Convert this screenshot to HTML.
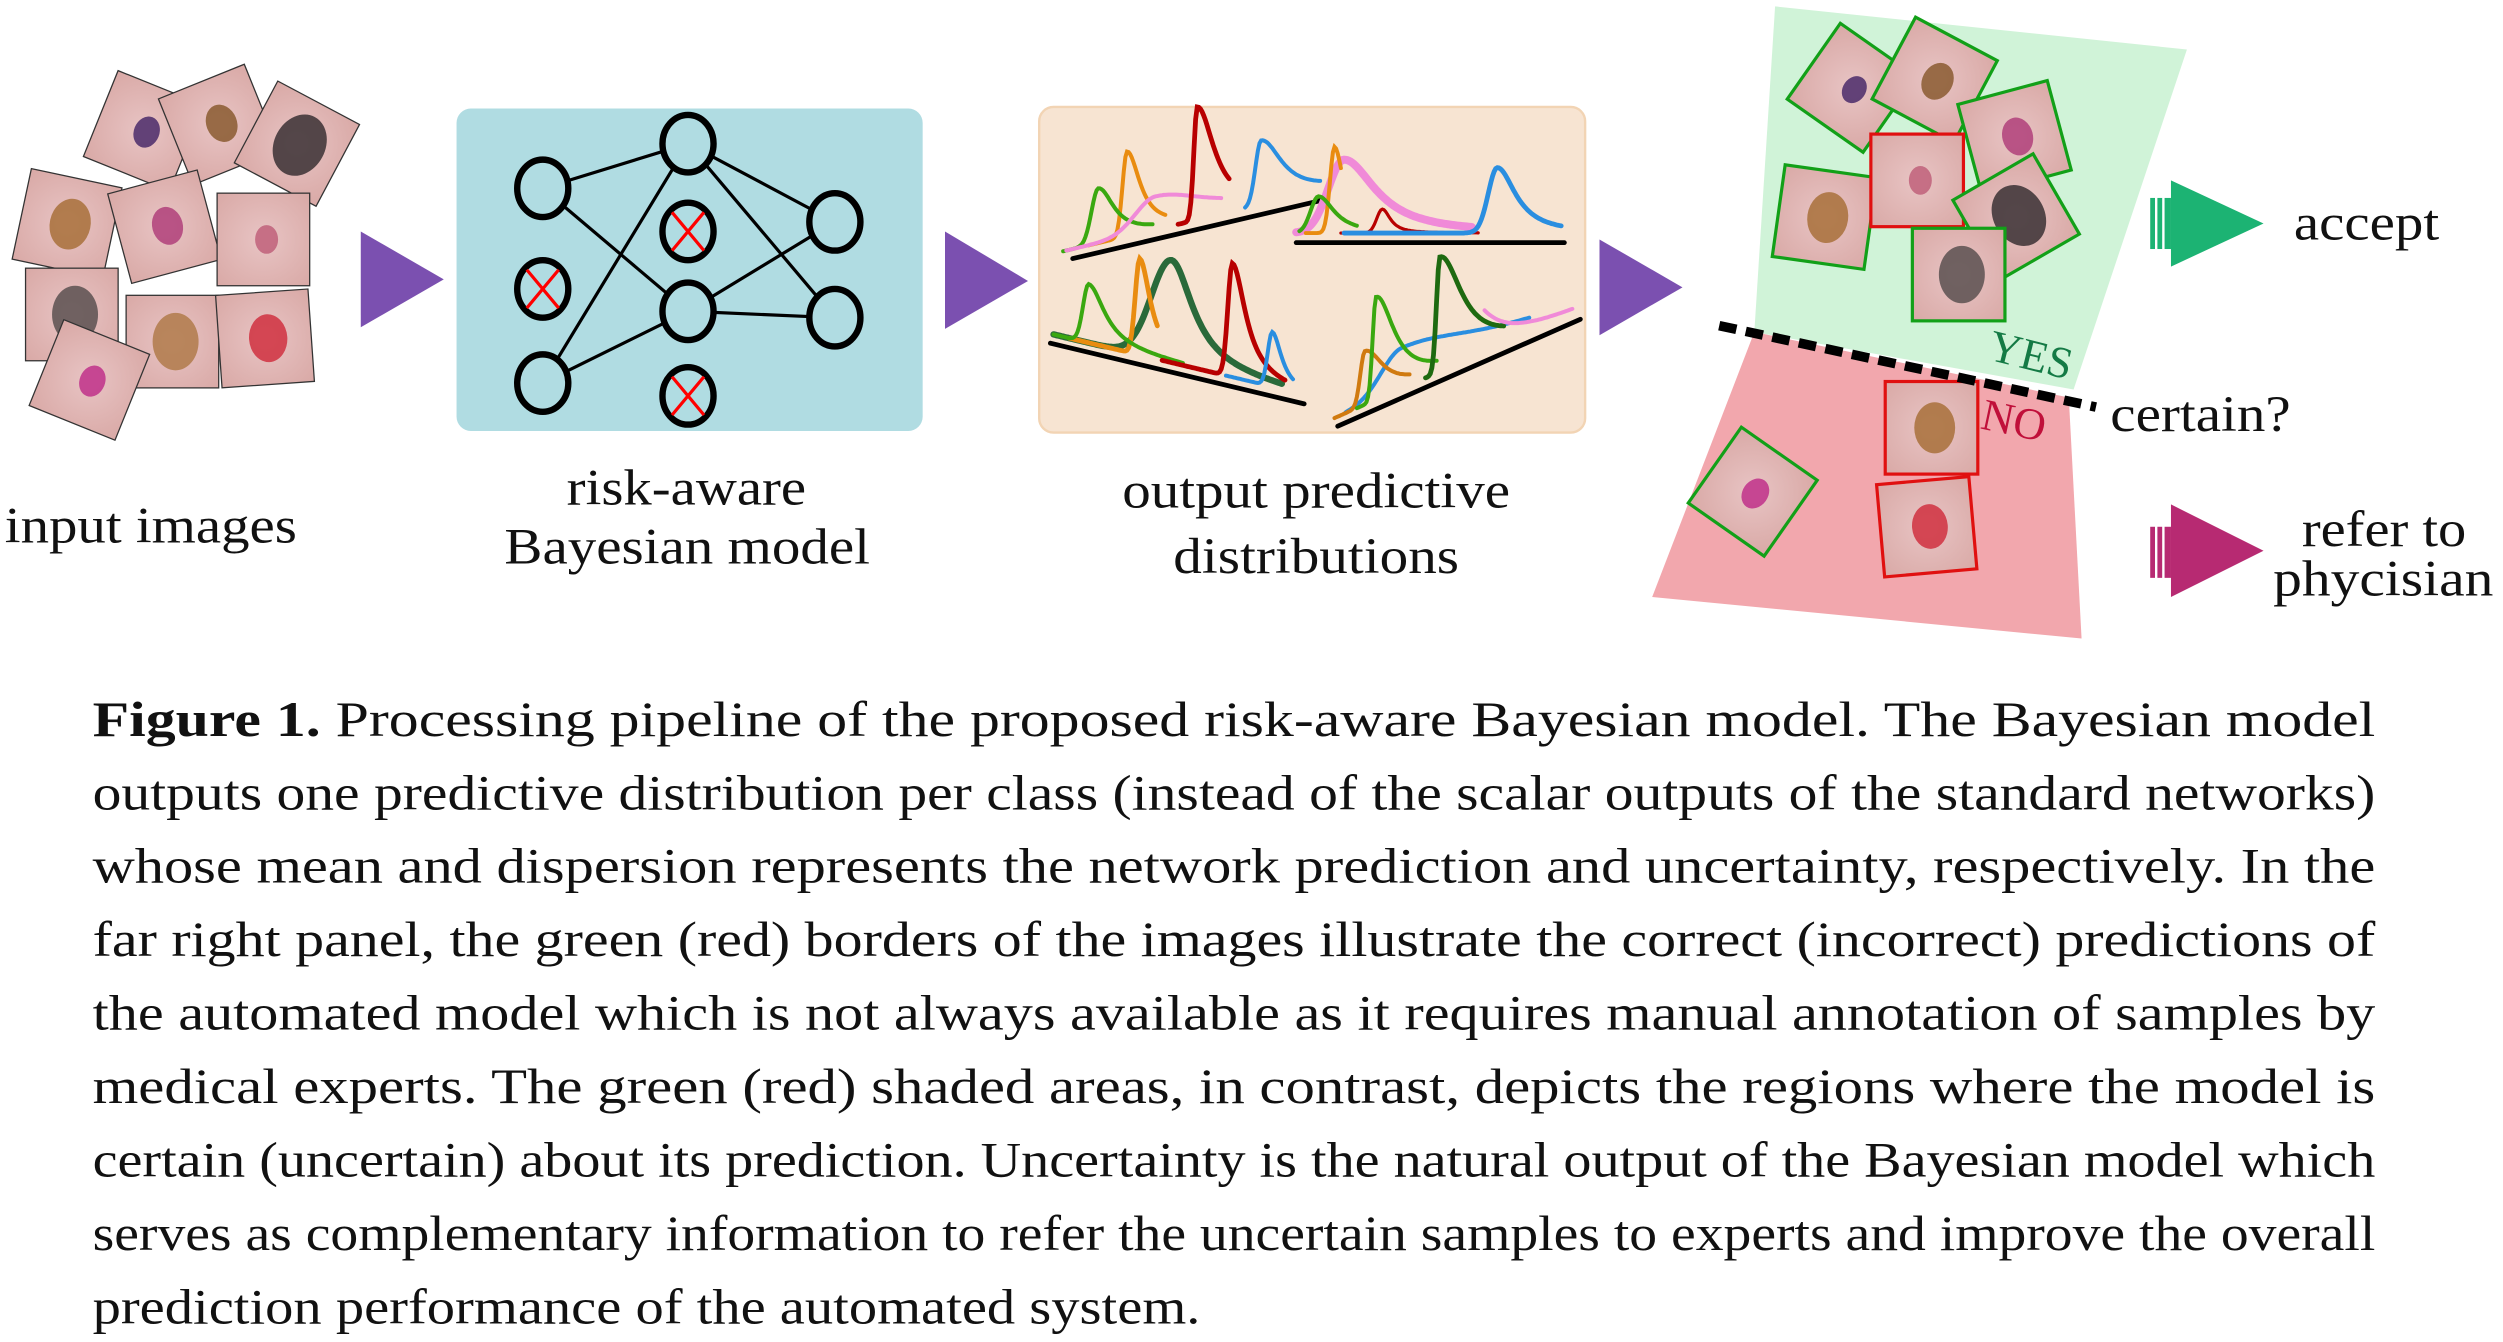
<!DOCTYPE html>
<html><head><meta charset="utf-8"><style>
html,body{margin:0;padding:0;background:#fff;width:2503px;height:1342px;overflow:hidden}
svg{display:block}
text{font-family:"Liberation Serif",serif;fill:#111}
</style></head><body>
<svg id="fig" width="2503" height="1342" viewBox="0 0 1568 840.7" xmlns="http://www.w3.org/2000/svg">
<defs>
<radialGradient id="skin" cx="50%" cy="50%" r="70%"><stop offset="0" stop-color="#e8c4c4"/><stop offset="1" stop-color="#d9a9a6"/></radialGradient>
</defs>
<g id="inputImgs"></g>
<polygon points="226,145 278,175 226,205" fill="#7b50b0"/>
<rect x="286" y="68" width="292" height="202" rx="9" fill="#b0dce2"/>
<g id="net" stroke="#000" fill="none"></g>
<polygon points="592,145 644,176 592,206" fill="#7b50b0"/>
<rect x="651" y="67" width="342" height="204" rx="9" fill="#f7e4d2" stroke="#f2d4b4" stroke-width="1.5"/>
<g id="dists" fill="none" stroke-linecap="round"></g>
<polygon points="1002,150 1054,180 1002,210" fill="#7b50b0"/>
<polygon points="1112,4 1370,31 1299,244 1099,208" fill="#d0f3d8"/>
<polygon points="1099,208 1296,249 1304,400 1035,374" fill="#f2a7ad"/>
<g id="outImgs"></g>
<line x1="1077" y1="204" x2="1313" y2="255" stroke="#000" stroke-width="6" stroke-dasharray="11,6"/>
<text x="1245" y="230" font-size="28" style="fill:#147a45" transform="rotate(14 1265 225)">YES</text>
<text x="1241" y="272" font-size="28" style="fill:#c0103a" transform="rotate(12 1258 265)">NO</text>
<text x="1322" y="270" font-size="32" textLength="113" lengthAdjust="spacingAndGlyphs">certain?</text>
<g fill="#1cb373"><rect x="1347" y="124" width="3" height="32"/><rect x="1351.5" y="124" width="3" height="32"/><rect x="1356" y="124" width="4" height="32"/><polygon points="1360,113 1418,140 1360,167"/></g>
<text x="1437" y="150" font-size="32" textLength="91" lengthAdjust="spacingAndGlyphs">accept</text>
<g fill="#b72a72"><rect x="1347" y="330" width="3" height="32"/><rect x="1351.5" y="330" width="3" height="32"/><rect x="1356" y="330" width="4" height="32"/><polygon points="1360,316 1418,345 1360,374"/></g>
<text x="1442" y="342" font-size="32" textLength="103" lengthAdjust="spacingAndGlyphs">refer to</text>
<text x="1424" y="373" font-size="32" textLength="138" lengthAdjust="spacingAndGlyphs">phycisian</text>
<text x="3" y="340" font-size="32" textLength="183" lengthAdjust="spacingAndGlyphs">input images</text>
<text x="355" y="316" font-size="32" textLength="150" lengthAdjust="spacingAndGlyphs">risk-aware</text>
<text x="316" y="353" font-size="32" textLength="229" lengthAdjust="spacingAndGlyphs">Bayesian model</text>
<text x="703" y="318" font-size="32" textLength="243" lengthAdjust="spacingAndGlyphs">output predictive</text>
<text x="735" y="359" font-size="32" textLength="179" lengthAdjust="spacingAndGlyphs">distributions</text>
<g font-size="31">
<text x="58" y="461" textLength="1430" lengthAdjust="spacingAndGlyphs"><tspan font-weight="bold">Figure 1.</tspan>  Processing pipeline of the proposed risk-aware Bayesian model.  The Bayesian model</text>
<text x="58" y="507" textLength="1430" lengthAdjust="spacingAndGlyphs">outputs one predictive distribution per class (instead of the scalar outputs of the standard networks)</text>
<text x="58" y="553" textLength="1430" lengthAdjust="spacingAndGlyphs">whose mean and dispersion represents the network prediction and uncertainty, respectively. In the</text>
<text x="58" y="599" textLength="1430" lengthAdjust="spacingAndGlyphs">far right panel, the green (red) borders of the images illustrate the correct (incorrect) predictions of</text>
<text x="58" y="645" textLength="1430" lengthAdjust="spacingAndGlyphs">the automated model which is not always available as it requires manual annotation of samples by</text>
<text x="58" y="691" textLength="1430" lengthAdjust="spacingAndGlyphs">medical experts.  The green (red) shaded areas, in contrast, depicts the regions where the model is</text>
<text x="58" y="737" textLength="1430" lengthAdjust="spacingAndGlyphs">certain (uncertain) about its prediction. Uncertainty is the natural output of the Bayesian model which</text>
<text x="58" y="783" textLength="1430" lengthAdjust="spacingAndGlyphs">serves as complementary information to refer the uncertain samples to experts and improve the overall</text>
<text x="58" y="829" textLength="694" lengthAdjust="spacingAndGlyphs">prediction performance of the automated system.</text>
</g>
</svg>
<script>
const NS='http://www.w3.org/2000/svg';
// input images: cx, cy, rotation, lesion color, lesion size
const inCx=[90,137,186,42,103,165,45,108,166,56];
const inCy=[82,78,90,140,142,150,197,214,212,238];
const inRot=[22,-22,28,12,-15,0,0,0,-4,22];
const inLes=['#4a2a6a','#8a5a30','#3a3034','#a8703a','#b0407a','#c0607a','#5a5050','#b07a4a','#d03040','#c0308a'];
const inSz=[10,12,20,16,12,9,18,18,15,10];
// output images
const outCx=[1160,1212,1262,1143,1201,1263,1227,1210,1098,1207];
const outCy=[55,50,86,136,113,136,172,268,308,330];
const outRot=[35,28,-15,8,0,-30,0,0,35,-5];
const outLes=['#4a2a6a','#8a5a30','#b0407a','#a8703a','#c0607a','#3a3034','#5a5050','#a8703a','#c0308a','#d03040'];
const outSz=[9,12,12,16,9,20,18,16,10,14];
const outBorder=['g','g','g','g','r','g','g','r','g','r'];
function img(g,cx,cy,rot,les,sz,stroke,sw){
  const gg=document.createElementNS(NS,'g');
  gg.setAttribute('transform',`rotate(${rot} ${cx} ${cy})`);
  
  
  const r=document.createElementNS(NS,'rect');
  r.setAttribute('x',cx-29);r.setAttribute('y',cy-29);r.setAttribute('width',58);r.setAttribute('height',58);
  r.setAttribute('fill','url(#skin)');r.setAttribute('stroke',stroke);r.setAttribute('stroke-width',sw);
  gg.appendChild(r);
  const e=document.createElementNS(NS,'ellipse');
  e.setAttribute('cx',cx+2);e.setAttribute('cy',cy);e.setAttribute('rx',sz*0.8);e.setAttribute('ry',sz);
  e.setAttribute('fill',les);e.setAttribute('opacity','0.85');
  gg.appendChild(e);g.appendChild(gg);
}
const gi=document.getElementById('inputImgs');
inCx.forEach((x,i)=>img(gi,x,inCy[i],inRot[i],inLes[i],inSz[i],'#333',0.8));
const go=document.getElementById('outImgs');
outCx.forEach((x,i)=>img(go,x,outCy[i],outRot[i],outLes[i],outSz[i],outBorder[i]==='g'?'#12a018':'#e01010',2));
// network
const nodeX=[340,340,340,431,431,431,431,523,523];
const nodeY=[118,181,240,90,145,195,248,139,199];
const nodeDrop=[0,1,0,0,1,0,1,0,0];
const edgeA=[0,0,2,2,3,3,5,5];
const edgeB=[3,5,3,5,7,8,7,8];
const net=document.getElementById('net');
edgeA.forEach((a,i)=>{const b=edgeB[i];const l=document.createElementNS(NS,'line');
  l.setAttribute('x1',nodeX[a]);l.setAttribute('y1',nodeY[a]);l.setAttribute('x2',nodeX[b]);l.setAttribute('y2',nodeY[b]);
  l.setAttribute('stroke-width',2);
  
  
  net.appendChild(l);});
nodeX.forEach((x,i)=>{const y=nodeY[i];const e=document.createElementNS(NS,'ellipse');
  e.setAttribute('cx',x);e.setAttribute('cy',y);e.setAttribute('rx',16);e.setAttribute('ry',18);
  e.setAttribute('stroke-width',4);e.setAttribute('fill','#b0dce2');
  
  
  net.appendChild(e);
  if(nodeDrop[i]){const p=document.createElementNS(NS,'path');
    p.setAttribute('d',`M${x-10} ${y-12}L${x+10} ${y+12}M${x+10} ${y-12}L${x-10} ${y+12}`);
    p.setAttribute('stroke','#f00');p.setAttribute('stroke-width',2);net.appendChild(p);}
});
// distributions
const baseX1=[672,812,658,838], baseY1=[162,152,215,267], baseX2=[830,980,817,990], baseY2=[125,152,253,200];
const pPanel=[0,0,0,0,0, 1,1,1,1,1, 2,2,2,2,2, 3,3,3,3,3];
const pColor=['#e98c10','#3aa810','#f08ad8','#b80000','#2a8ee0', '#f08ad8','#e98c10','#3aa810','#b80000','#2a8ee0', '#2a6a3a','#e98c10','#3aa810','#b80000','#2a8ee0', '#2a8ee0','#d07a10','#3aa810','#1e6a10','#f08ad8'];
const pStart=[682,666,668,738,780, 812,818,814,840,842, 660,670,660,728,768, 843,836,850,893,930];
const pEnd=[730,722,765,770,827, 922,840,850,926,978, 803,725,741,805,810, 958,883,900,942,985];
const pPeak=[706,688,724,750,790, 842,836,826,866,938, 734,714,682,772,797, 878,855,862,902,915];
const pTop=[95,118,123,67,88, 100,92,123,131,105, 163,162,178,165,208, 218,220,186,161,183];
const pWl=[4,6,18,3,5, 14,4,7,5,8, 18,4,5,4,4, 18,4,3,3,3];
const pWr=[10,12,40,13,16, 24,7,12,6,14, 16,8,12,10,7, 60,14,14,17,18];
const pSw=[2.5,2.5,2.5,3,2.5, 5,2.5,2.5,2,3, 4,3,2.5,3,2.5, 2.5,2.5,2.5,3,2.5];
function base(k,x){return baseY1[k]+(baseY2[k]-baseY1[k])*(x-baseX1[k])/(baseX2[k]-baseX1[k]);}
const dg=document.getElementById('dists');
baseX1.forEach((x,k)=>{const l=document.createElementNS(NS,'line');
  l.setAttribute('x1',x);l.setAttribute('y1',baseY1[k]);l.setAttribute('x2',baseX2[k]);l.setAttribute('y2',baseY2[k]);
  l.setAttribute('stroke','#000');l.setAttribute('stroke-width',3);
  
  
  dg.appendChild(l);});
pPanel.forEach((k,i)=>{
  const off=6, xp=pPeak[i], h=base(k,xp)-off-pTop[i];
  let d='';
  for(let x=pStart[i];x<=pEnd[i];x+=1){
    const w=x<xp?pWl[i]:pWr[i];
    const t=(x-xp)/w; const g=x<xp?Math.exp(-t*t):1/(1+t*t);
    const y=base(k,x)-off-h*g;
    d+=(d?'L':'M')+x+' '+y.toFixed(1);
  }
  const p=document.createElementNS(NS,'path');
  p.setAttribute('d',d);p.setAttribute('stroke',pColor[i]);p.setAttribute('stroke-width',pSw[i]);
  
  
  dg.appendChild(p);
});
</script>
</body></html>
